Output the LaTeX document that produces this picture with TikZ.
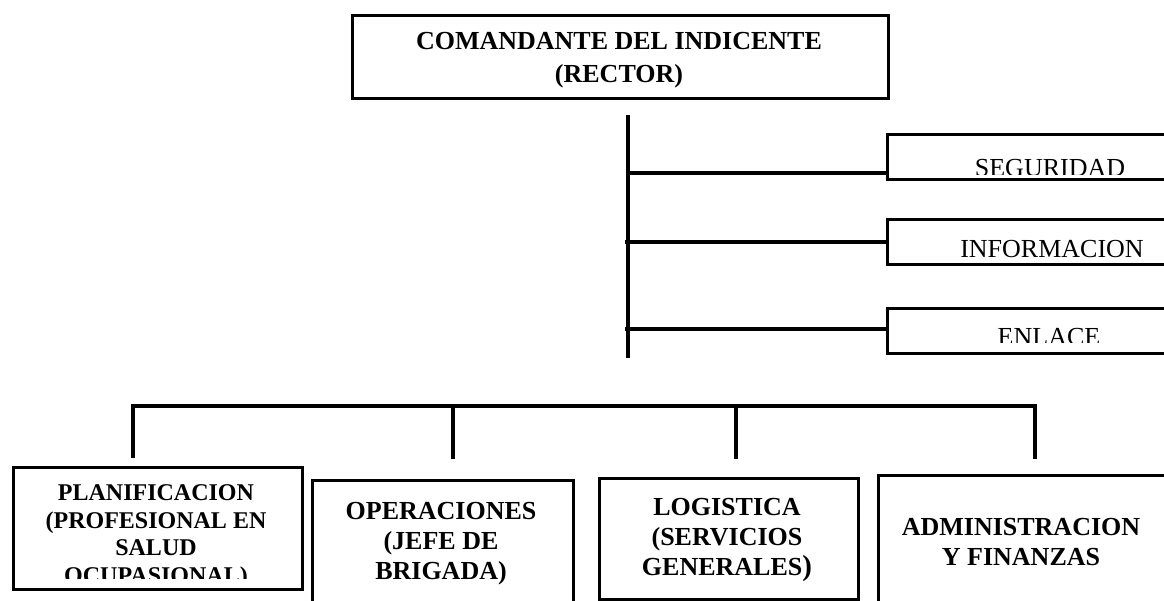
\documentclass[tikz,border=0pt]{standalone}
\usepackage{fontspec}
\setmainfont{Liberation Serif}
\begin{document}
\begin{tikzpicture}[x=1pt,y=-1pt,
  box/.style={draw, line width=2.5pt, rectangle, inner sep=0pt, anchor=north west},
  link/.style={line width=4pt},
  bt/.style={font=\fontsize{26}{30}\selectfont\bfseries, anchor=base, inner sep=0pt},
  pt/.style={font=\fontsize{24}{28}\selectfont\bfseries, anchor=base, inner sep=0pt},
  rt/.style={font=\fontsize{26}{30}\selectfont, anchor=base, inner sep=0pt}]
\useasboundingbox (0,0) rectangle (1164,600);
\clip (0,0) rectangle (1164,600);

% boxes
\node[box, minimum width=536pt, minimum height=83pt] (cmd) at (351,14) {};
\node[box, minimum width=340pt, minimum height=45pt] (seg) at (886,133) {};
\node[box, minimum width=340pt, minimum height=45pt] (inf) at (886,218) {};
\node[box, minimum width=340pt, minimum height=45pt] (enl) at (886,307) {};
\node[box, minimum width=289pt, minimum height=122pt] (pla) at (12,466) {};
\node[box, minimum width=261pt, minimum height=160pt] (ope) at (311,479) {};
\node[box, minimum width=259pt, minimum height=121pt] (log) at (598,477) {};
\node[box, minimum width=290pt, minimum height=160pt] (adm) at (877,474) {};

% texts
\node[bt] (cmd1) at (619,49) {COMANDANTE DEL INDICENTE};
\node[bt] (cmd2) at (619,82) {(RECTOR)};

\begin{scope}
\clip (888,135) rectangle (1164,174);
\node[rt] (segt) at (1050,176) {SEGURIDAD};
\end{scope}
\node[rt] (inft) at (1052,257) {INFORMACION};
\begin{scope}
\clip (888,309) rectangle (1164,342);
\node[rt] (enlt) at (1049,345) {ENLACE};
\end{scope}

\begin{scope}
\clip (14,468) rectangle (299,578);
\node[pt] (pla1) at (156,500) {PLANIFICACION};
\node[pt] (pla2) at (156,528) {(PROFESIONAL EN};
\node[pt] (pla3) at (156,555) {SALUD};
\node[pt] (pla4) at (156,583) {OCUPASIONAL)};
\end{scope}

\node[bt] (ope1) at (441,519) {OPERACIONES};
\node[bt] (ope2) at (441,549) {(JEFE DE};
\node[bt] (ope3) at (441,579) {BRIGADA)};

\node[bt] (log1) at (727,515) {LOGISTICA};
\node[bt] (log2) at (727,545) {(SERVICIOS};
\node[bt] (log3) at (727,575) {GENERALES{\fontsize{29}{30}\selectfont)}};

\node[bt] (adm1) at (1021,535) {ADMINISTRACION};
\node[bt] (adm2) at (1021,565) {Y FINANZAS};

% trunk and branches
\coordinate (tTop) at (628,115);
\coordinate (tBot) at (628,358);
\draw[link] (tTop) -- (tBot);
\coordinate (br1) at (626,173);
\coordinate (br2) at (625,242);
\coordinate (br3) at (625,329);
\draw[link] (br1) -- (br1 -| seg.west);
\draw[link] (br2) -- (br2 -| inf.west);
\draw[link] (br3) -- (br3 -| enl.west);

% bus and drops
\coordinate (d1) at (133,458);
\coordinate (d2) at (453,459);
\coordinate (d3) at (736,459);
\coordinate (d4) at (1035,459);
\coordinate (busL) at (133,406);
\coordinate (busR) at (1035,406);
\draw[link] (d1) -- (busL) -- (busR) -- (d4);
\draw[link] (d2 |- busL) -- (d2);
\draw[link] (d3 |- busL) -- (d3);
\end{tikzpicture}
\end{document}
